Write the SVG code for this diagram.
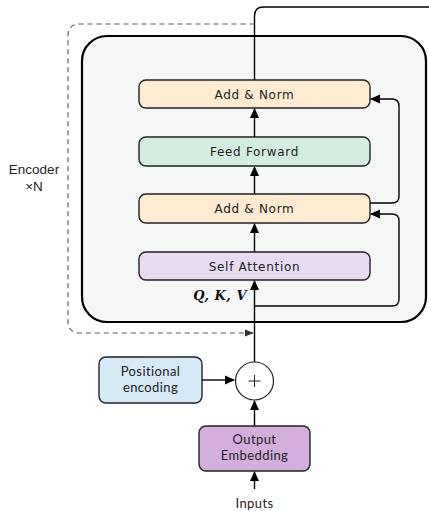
<svg xmlns="http://www.w3.org/2000/svg" width="429" height="511" viewBox="0 0 429 511">
  <defs>
    <marker id="arr" viewBox="0 0 10 10" refX="9" refY="5" markerWidth="10" markerHeight="10" markerUnits="userSpaceOnUse" orient="auto">
      <path d="M0,0.5 L10,5 L0,9.5 Z" fill="#000"/>
    </marker>
    <marker id="arrg" viewBox="0 0 10 10" refX="9" refY="5" markerWidth="9" markerHeight="9" markerUnits="userSpaceOnUse" orient="auto">
      <path d="M0,1 L10,5 L0,9 Z" fill="#333"/>
    </marker>
  </defs>
  <style>
    .box { stroke: #222; stroke-width: 1.4; }
    .lbl { font-family: "DejaVu Sans", "Liberation Sans", sans-serif; font-size: 12px; fill: #222; text-anchor: middle; letter-spacing: 0.7px; }
    .lbl2 { font-family: Lato, "Liberation Sans", sans-serif; font-size: 13px; fill: #222; text-anchor: middle; letter-spacing: 0.4px; }
    .wire { fill: none; stroke: #000; stroke-width: 1.4; }
  </style>

  <rect width="429" height="511" fill="#fff"/>

  <g id="encoder-stack">
    <rect x="82" y="36" width="344" height="286" rx="25" fill="#f5f7f7" stroke="#000" stroke-width="2.2"/>
  </g>

  <g id="encoder-label">
    <text x="34" y="174" font-family="Liberation Sans, Arial, sans-serif" font-size="13.5" text-anchor="middle" fill="#222">Encoder</text>
    <text x="34" y="191" font-family="Liberation Sans, Arial, sans-serif" font-size="13.5" text-anchor="middle" fill="#222">×N</text>
  </g>

  <g id="add-norm-top">
    <rect class="box" x="139" y="80" width="231" height="28" rx="7" fill="#fdebd2"/>
    <text class="lbl" x="254.5" y="98.5">Add &amp; Norm</text>
  </g>
  <g id="feed-forward">
    <rect class="box" x="139" y="137" width="231" height="29" rx="7" fill="#d3eee0"/>
    <text class="lbl" x="254.5" y="156">Feed Forward</text>
  </g>
  <g id="add-norm-bottom">
    <rect class="box" x="139" y="194" width="231" height="29" rx="7" fill="#fdebd2"/>
    <text class="lbl" x="254.5" y="213">Add &amp; Norm</text>
  </g>
  <g id="self-attention">
    <rect class="box" x="139" y="252" width="231" height="28" rx="7" fill="#e8daf0"/>
    <text class="lbl" x="254.5" y="270.5">Self Attention</text>
  </g>
  <g id="qkv-label">
    <text x="247" y="300" font-family="DejaVu Serif, Liberation Serif, serif" font-size="13" font-weight="bold" font-style="italic" text-anchor="end" fill="#111" letter-spacing="0.5">Q, K, V</text>
  </g>

  <g id="positional-encoding">
    <rect class="box" x="99" y="357" width="103" height="46" rx="7" fill="#d6e9f6"/>
    <text class="lbl2" x="150.5" y="376">Positional</text>
    <text class="lbl2" x="150.5" y="392">encoding</text>
  </g>
  <g id="sum">
    <circle cx="254.5" cy="381" r="19" fill="#fff" stroke="#222" stroke-width="1.2"/>
    <path d="M248.5,381 H260.5 M254.5,375 V387" stroke="#222" stroke-width="1" fill="none"/>
  </g>
  <g id="output-embedding">
    <rect class="box" x="199" y="426" width="111" height="45" rx="7" fill="#d4aedd"/>
    <text class="lbl2" x="254.5" y="444">Output</text>
    <text class="lbl2" x="254.5" y="460">Embedding</text>
  </g>
  <g id="inputs-label">
    <text class="lbl2" x="254.5" y="508">Inputs</text>
  </g>

  <g id="connectors">
    <!-- main vertical path -->
    <line class="wire" x1="254.5" y1="489" x2="254.5" y2="472" marker-end="url(#arr)"/>
    <line class="wire" x1="254.5" y1="426" x2="254.5" y2="401" marker-end="url(#arr)"/>
    <line class="wire" x1="202" y1="380" x2="234" y2="380" marker-end="url(#arr)"/>
    <line class="wire" x1="254.5" y1="362" x2="254.5" y2="281" marker-end="url(#arr)"/>
    <line class="wire" x1="254.5" y1="252" x2="254.5" y2="224" marker-end="url(#arr)"/>
    <line class="wire" x1="254.5" y1="194" x2="254.5" y2="167" marker-end="url(#arr)"/>
    <line class="wire" x1="254.5" y1="137" x2="254.5" y2="109" marker-end="url(#arr)"/>
    <path class="wire" d="M254.5,80 V16 Q254.5,7 263.5,7 H429"/>
    <!-- residual connections -->
    <path class="wire" d="M254.5,306 H392 Q399,306 399,299 V221 Q399,214 392,214 H371" marker-end="url(#arr)"/>
    <path class="wire" d="M370,203 H392 Q399,203 399,196 V106 Q399,99 392,99 H371" marker-end="url(#arr)"/>
    <!-- repetition loop -->
    <path d="M254.5,24 H80 Q68,24 68,36 V321 Q68,333 80,333 H253" fill="none" stroke="#555" stroke-width="1.1" stroke-dasharray="5,4" marker-end="url(#arrg)"/>
  </g>
</svg>
